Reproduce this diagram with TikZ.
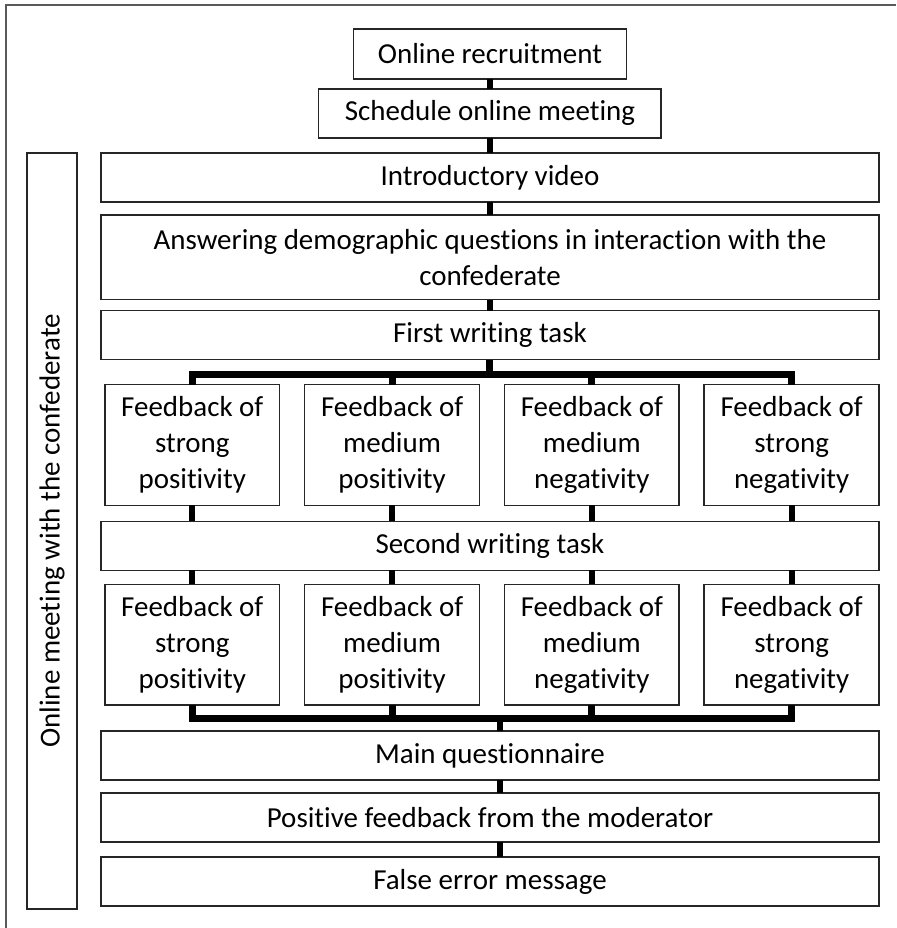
\documentclass[tikz,border=0pt]{standalone}
\usepackage{fontspec}
\setmainfont{Carlito}[Ligatures=NoCommon]
\usetikzlibrary{positioning,fit,calc}
\newcommand{\boxfont}{\fontsize{14.5pt}{18pt}\selectfont}
\tikzset{
  stage/.style = {rectangle, draw=black!85, line width=0.8pt, outer sep=0pt,
                  align=center, font=\boxfont, minimum width=389.5pt,
                  minimum height=24.5pt, inner sep=2pt},
  fbk/.style   = {stage, minimum width=87.5pt, minimum height=60.5pt},
  side/.style  = {rectangle, draw=black!85, line width=0.8pt, inner sep=0pt},
  cn/.style    = {line width=3pt, black},
  bus/.style   = {line width=3.5pt, black, line join=miter},
  frm/.style   = {line width=1pt, black!65},
}
\begin{document}
\begin{tikzpicture}[node distance=6.5pt]
  \node[stage, minimum width=136.5pt, minimum height=25pt] (rec) {Online recruitment};
  \node[stage, minimum width=171.5pt, below=5pt of rec] (sched) {Schedule online meeting};
  \node[stage, below=7.5pt of sched] (intro) {Introductory video};
  \node[stage, minimum height=42.5pt, below=of intro] (demo) {Answering demographic questions in interaction with the\\ confederate};
  \node[stage, below=5.5pt of demo] (write1) {First writing task};
  % first round of feedback
  \node[fbk, below=12.5pt of write1.south west, anchor=north west, xshift=2pt] (fa1) {Feedback of\\ strong\\ positivity};
  \node[fbk, right=12.5pt of fa1] (fa2) {Feedback of\\ medium\\ positivity};
  \node[fbk, right=12.5pt of fa2] (fa3) {Feedback of\\ medium\\ negativity};
  \node[fbk, right=12.5pt of fa3] (fa4) {Feedback of\\ strong\\ negativity};
  \node[stage, below=8pt of write1 |- fa1.south] (write2) {Second writing task};
  % second round of feedback
  \node[fbk, below=7pt of write2.south west, anchor=north west, xshift=2pt] (fb1) {Feedback of\\ strong\\ positivity};
  \node[fbk, right=12.5pt of fb1] (fb2) {Feedback of\\ medium\\ positivity};
  \node[fbk, right=12.5pt of fb2] (fb3) {Feedback of\\ medium\\ negativity};
  \node[fbk, right=12.5pt of fb3] (fb4) {Feedback of\\ strong\\ negativity};
  \node[stage, below=13pt of write2 |- fb1.south] (mainq) {Main questionnaire};
  \node[stage, below=of mainq] (posfb) {Positive feedback from the moderator};
  \node[stage, below=7.5pt of posfb] (err) {False error message};
  % meeting bracket on the left
  \node[side, fit={($(intro.north west)+(-37pt,0)$) ($(err.south west)+(-12pt,-1.5pt)$)}] (meet) {};
  \node[rotate=90, font=\boxfont] (meettxt) at (meet.center) {Online meeting with the confederate};

  \draw[cn] (rec) -- (sched);
  \draw[cn] (sched) -- (intro);
  \draw[cn] (intro) -- (demo);
  \draw[cn] (demo) -- (write1);
  \draw[bus] (write1.south) -- ++(0,-7.5pt);
  \draw[bus] (fa1.north) -- ++(0,5pt) -| (fa4.north);
  \draw[bus] (fa2.north) -- ++(0,5pt);
  \draw[bus] (fa3.north) -- ++(0,5pt);
  \foreach \i in {1,...,4} {
    \draw[cn] (fa\i.south) -- (fa\i.south |- write2.north);
    \draw[cn] (fb\i.north |- write2.south) -- (fb\i.north);
  }
  \draw[bus] (fb1.south) -- ++(0,-6.5pt) -| (fb4.south);
  \draw[bus] (fb2.south) -- ++(0,-6.5pt);
  \draw[bus] (fb3.south) -- ++(0,-6.5pt);
  \coordinate (busmid) at ($(mainq.north)+(5pt,6.5pt)$);
  \draw[cn] (busmid) -- (busmid |- mainq.north);
  \draw[cn] ([xshift=5pt]mainq.south) -- ([xshift=5pt]posfb.north);
  \draw[cn] ([xshift=5pt]posfb.south) -- ([xshift=5pt]err.north);

  % page frame
  \path[use as bounding box] ($(intro.west |- rec.north)+(-50.5pt,14.5pt)$) rectangle ($(intro.east |- err.south)+(8.5pt,-11pt)$);
  \draw[frm] ($(intro.west |- err.south)+(-47.5pt,-11pt)$) |- ($(intro.east |- rec.north)+(8.5pt,12pt)$);
\end{tikzpicture}
\end{document}
